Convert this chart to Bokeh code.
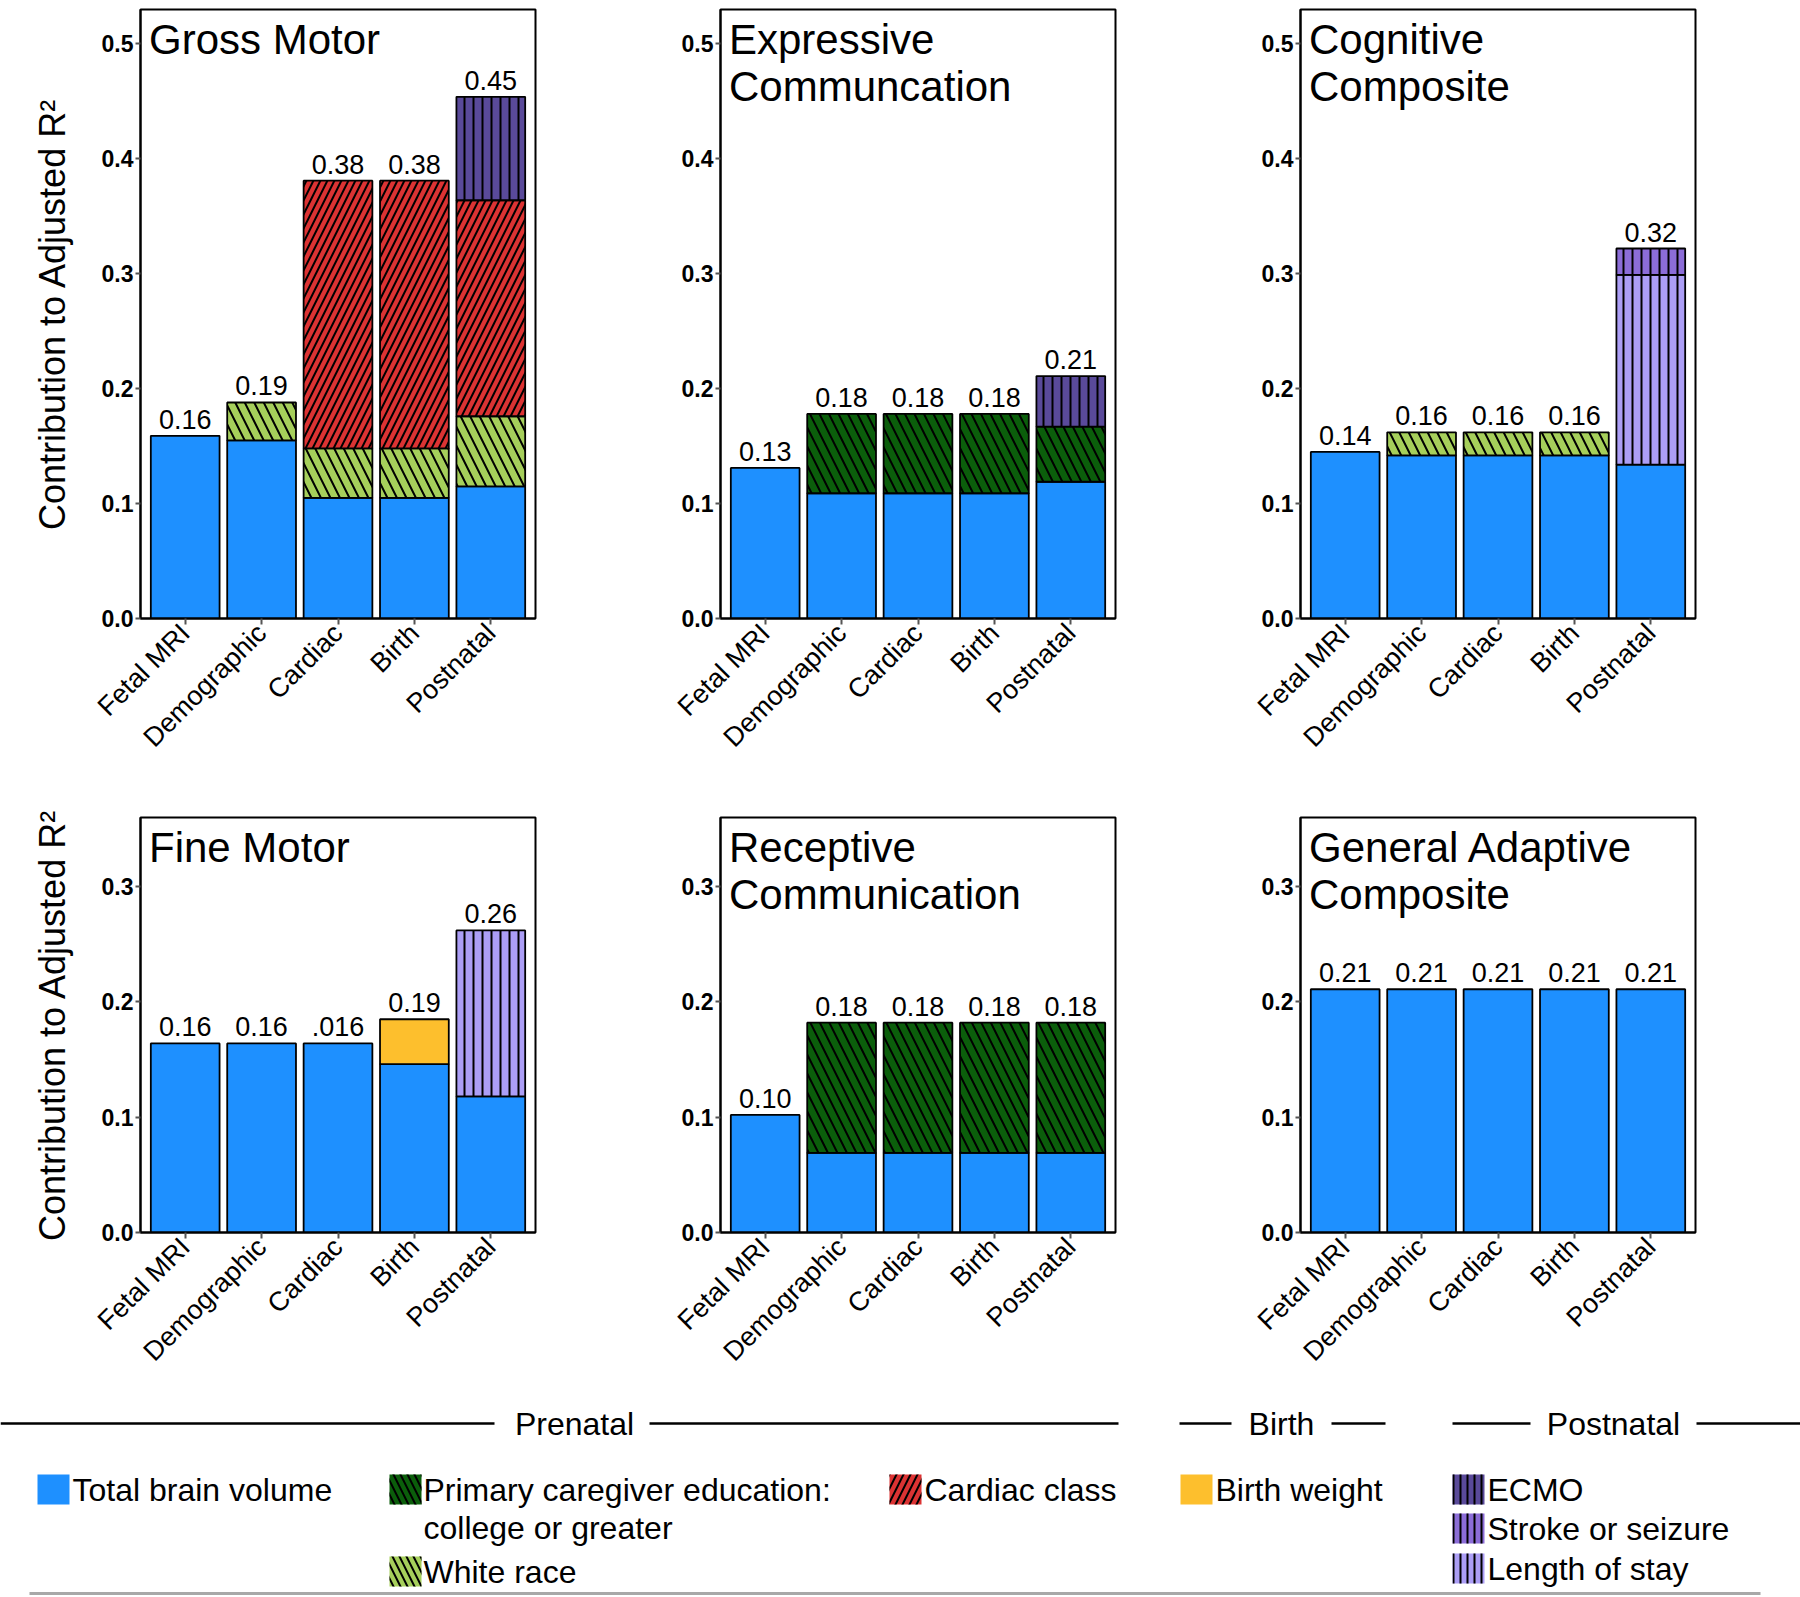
import math
import numpy as np
from bokeh.plotting import figure
from bokeh.models import FactorRange, Range1d, FixedTicker, NumeralTickFormatter, Label, ColumnDataSource
from bokeh.layouts import column, row
from bokeh.embed import file_html
from bokeh.resources import INLINE
from bokeh.core.properties import value

# ---------------- data ----------------
categories = ["Fetal MRI", "Demographic", "Cardiac", "Birth", "Postnatal"]

# Gross Motor
gross_tbv = [0.159, 0.155, 0.105, 0.105, 0.115]
gross_white = [0.0, 0.033, 0.043, 0.043, 0.061]
gross_cardiac = [0.0, 0.0, 0.233, 0.233, 0.188]
gross_ecmo = [0.0, 0.0, 0.0, 0.0, 0.090]
gross_labels = ["0.16", "0.19", "0.38", "0.38", "0.45"]

# Expressive Communication
expr_tbv = [0.131, 0.109, 0.109, 0.109, 0.119]
expr_caregiver = [0.0, 0.069, 0.069, 0.069, 0.048]
expr_ecmo = [0.0, 0.0, 0.0, 0.0, 0.044]
expr_labels = ["0.13", "0.18", "0.18", "0.18", "0.21"]

# Cognitive Composite
cog_tbv = [0.145, 0.142, 0.142, 0.142, 0.134]
cog_white = [0.0, 0.020, 0.020, 0.020, 0.0]
cog_los = [0.0, 0.0, 0.0, 0.0, 0.165]
cog_stroke = [0.0, 0.0, 0.0, 0.0, 0.023]
cog_labels = ["0.14", "0.16", "0.16", "0.16", "0.32"]

# Fine Motor
fine_tbv = [0.164, 0.164, 0.164, 0.146, 0.118]
fine_bw = [0.0, 0.0, 0.0, 0.039, 0.0]
fine_los = [0.0, 0.0, 0.0, 0.0, 0.144]
fine_labels = ["0.16", "0.16", ".016", "0.19", "0.26"]

# Receptive Communication
rec_tbv = [0.102, 0.069, 0.069, 0.069, 0.069]
rec_caregiver = [0.0, 0.113, 0.113, 0.113, 0.113]
rec_labels = ["0.10", "0.18", "0.18", "0.18", "0.18"]

# General Adaptive Composite
gac_tbv = [0.211, 0.211, 0.211, 0.211, 0.211]
gac_labels = ["0.21", "0.21", "0.21", "0.21", "0.21"]

top_ticks = [0.0, 0.1, 0.2, 0.3, 0.4, 0.5]
bottom_ticks = [0.0, 0.1, 0.2, 0.3]

# ---------------- styles ----------------
STACK_ORDER = ["tbv", "caregiver", "white", "cardiac", "bw", "los", "stroke", "ecmo"]
STYLE = {
    "tbv": dict(color="#1E90FF", hatch=" ", scale=10),
    "caregiver": dict(color="#0B5E0B", hatch="\\", scale=19),
    "white": dict(color="#A6CF5B", hatch="\\", scale=19),
    "cardiac": dict(color="#DC3333", hatch="/", scale=14),
    "bw": dict(color="#FDBF2D", hatch=" ", scale=10),
    "los": dict(color="#AC9EF6", hatch="|", scale=9),
    "stroke": dict(color="#8C6DD8", hatch="|", scale=9),
    "ecmo": dict(color="#5A4A9A", hatch="|", scale=9),
}
FONT = "Liberation Sans"

panels = [
    dict(title="Gross Motor", comps=dict(tbv=gross_tbv, white=gross_white, cardiac=gross_cardiac, ecmo=gross_ecmo),
         labels=gross_labels, row=0, col=0),
    dict(title="Expressive\nCommuncation", comps=dict(tbv=expr_tbv, caregiver=expr_caregiver, ecmo=expr_ecmo),
         labels=expr_labels, row=0, col=1),
    dict(title="Cognitive\nComposite", comps=dict(tbv=cog_tbv, white=cog_white, los=cog_los, stroke=cog_stroke),
         labels=cog_labels, row=0, col=2),
    dict(title="Fine Motor", comps=dict(tbv=fine_tbv, bw=fine_bw, los=fine_los),
         labels=fine_labels, row=1, col=0),
    dict(title="Receptive\nCommunication", comps=dict(tbv=rec_tbv, caregiver=rec_caregiver),
         labels=rec_labels, row=1, col=1),
    dict(title="General Adaptive\nComposite", comps=dict(tbv=gac_tbv),
         labels=gac_labels, row=1, col=2),
]

ROW_H = [798, 584]
BORDER_TOP = [9, 19]
BORDER_BOTTOM = [180, 150]
Y_MAX = [0.53, 0.36]
TICKS = [top_ticks, bottom_ticks]


def make_panel(spec):
    r = spec["row"]
    first = spec["col"] == 0
    p = figure(
        x_range=FactorRange(factors=categories, range_padding=0.034),
        y_range=Range1d(0, Y_MAX[r]),
        width=588 if first else 580, height=ROW_H[r],
        min_border_left=140 if first else 132, min_border_right=53,
        min_border_top=BORDER_TOP[r], min_border_bottom=BORDER_BOTTOM[r],
        output_backend="svg", toolbar_location=None,
    )
    p.xgrid.visible = False
    p.ygrid.visible = False
    p.outline_line_color = "black"
    p.outline_line_width = 2
    p.outline_line_alpha = 1.0
    p.background_fill_color = "white"
    p.border_fill_color = "white"

    # stacked bars
    base = np.zeros(len(categories))
    for key in STACK_ORDER:
        if key not in spec["comps"]:
            continue
        vals = np.array(spec["comps"][key], dtype=float)
        mask = vals > 0
        bottoms = base.copy()
        tops = base + vals
        base = tops
        if not mask.any():
            continue
        st = STYLE[key]
        src = ColumnDataSource(dict(
            x=[c for c, m in zip(categories, mask) if m],
            bottom=bottoms[mask], top=tops[mask]))
        p.vbar(x="x", bottom="bottom", top="top", width=0.9, source=src,
               fill_color=st["color"], line_color="black", line_width=1.8,
               hatch_pattern=st["hatch"], hatch_color="black", hatch_weight=2,
               hatch_scale=st["scale"], hatch_alpha=1.0)

    # value labels
    lsrc = ColumnDataSource(dict(x=categories, y=list(base), t=spec["labels"]))
    p.text(x="x", y="y", text="t", source=lsrc, text_align="center", text_baseline="bottom",
           y_offset=-7, text_font=value(FONT), text_font_size="27px", text_color="black")

    # panel title
    p.add_layout(Label(x=0, y=Y_MAX[r], x_offset=2, y_offset=-6, text=spec["title"],
                       text_font=FONT, text_font_size="42px", text_baseline="top",
                       text_align="left", text_color="black", text_line_height=1.0))

    # axes
    xa = p.xaxis[0]
    xa.major_label_orientation = math.pi / 4
    xa.major_label_text_font = FONT
    xa.major_label_text_font_size = "27px"
    xa.major_label_text_color = "black"
    xa.major_label_standoff = 4
    xa.axis_line_width = 2
    xa.axis_line_color = "black"
    xa.major_tick_line_width = 2
    xa.major_tick_line_color = "#555555"
    xa.major_tick_out = 6
    xa.major_tick_in = 0
    xa.minor_tick_line_color = None

    ya = p.yaxis[0]
    ya.ticker = FixedTicker(ticks=TICKS[r])
    ya.formatter = NumeralTickFormatter(format="0.0")
    ya.major_label_text_font = FONT
    ya.major_label_text_font_style = "bold"
    ya.major_label_text_font_size = "23px"
    ya.major_label_text_color = "black"
    ya.major_label_standoff = 2
    ya.axis_line_width = 2
    ya.axis_line_color = "black"
    ya.major_tick_line_width = 2
    ya.major_tick_line_color = "#555555"
    ya.major_tick_out = 5
    ya.major_tick_in = 0
    ya.minor_tick_line_color = None
    if first:
        ya.axis_label = "Contribution to Adjusted R²"
        ya.axis_label_text_font = FONT
        ya.axis_label_text_font_style = "normal"
        ya.axis_label_text_font_size = "36px"
        ya.axis_label_text_color = "black"
        ya.axis_label_standoff = 26
    return p


figs = [make_panel(s) for s in panels]

# ---------------- legend figure ----------------
LW, LH = 1800, 215
leg = figure(width=LW, height=LH, x_range=Range1d(0, LW), y_range=Range1d(LH, 0),
             output_backend="svg", toolbar_location=None,
             x_axis_location=None, y_axis_location=None, min_border=0)
leg.xgrid.visible = False
leg.ygrid.visible = False
leg.outline_line_color = None

legend_names = ["Total brain volume", "Primary caregiver education:", "White race", "Cardiac class",
                "Birth weight", "ECMO", "Stroke or seizure", "Length of stay"]
legend_keys = ["tbv", "caregiver", "white", "cardiac", "bw", "ecmo", "stroke", "los"]
sw_left = [37, 389, 389, 889, 1180, 1452, 1452, 1452]
sw_cy = [107, 107, 189, 107, 107, 107, 146, 186]
txt_x = [72, 423, 423, 924, 1215, 1487, 1487, 1487]

sw = ColumnDataSource(dict(
    left=sw_left, right=[v + 32 for v in sw_left],
    top=[c - 15 for c in sw_cy], bottom=[c + 15 for c in sw_cy],
    color=[STYLE[k]["color"] for k in legend_keys],
    hatch=[STYLE[k]["hatch"] for k in legend_keys],
    scale=[7 if STYLE[k]["hatch"] == "|" else 14 for k in legend_keys]))
leg.quad(left="left", right="right", top="top", bottom="bottom", source=sw,
         fill_color="color", line_color=None, hatch_pattern="hatch", hatch_color="black",
         hatch_weight=2, hatch_scale="scale")

tsrc = ColumnDataSource(dict(x=txt_x + [423], y=sw_cy + [145], t=legend_names + ["college or greater"]))
leg.text(x="x", y="y", text="t", source=tsrc, text_align="left", text_baseline="middle",
         text_font=value(FONT), text_font_size="32px", text_color="black")

# section headers
hdr_y = 41
hdr_names = ["Prenatal", "Birth", "Postnatal"]
hdr_x = [574, 1281, 1613]
leg.text(x=hdr_x, y=[hdr_y] * 3, text=hdr_names, text_align="center", text_baseline="middle",
         text_font=value(FONT), text_font_size="32px", text_color="black")
seg_x0 = [0, 649, 1179, 1331, 1452, 1696]
seg_x1 = [494, 1118, 1231, 1385, 1530, 1800]
leg.segment(x0=seg_x0, x1=seg_x1, y0=[hdr_y] * 6, y1=[hdr_y] * 6, line_color="black", line_width=2.5)
leg.segment(x0=[29], x1=[1760], y0=[211], y1=[211], line_color="#A8A8A8", line_width=3)

layout = column(row(*figs[:3]), row(*figs[3:]), leg)
open("out.html", "w").write(file_html(layout, INLINE))
